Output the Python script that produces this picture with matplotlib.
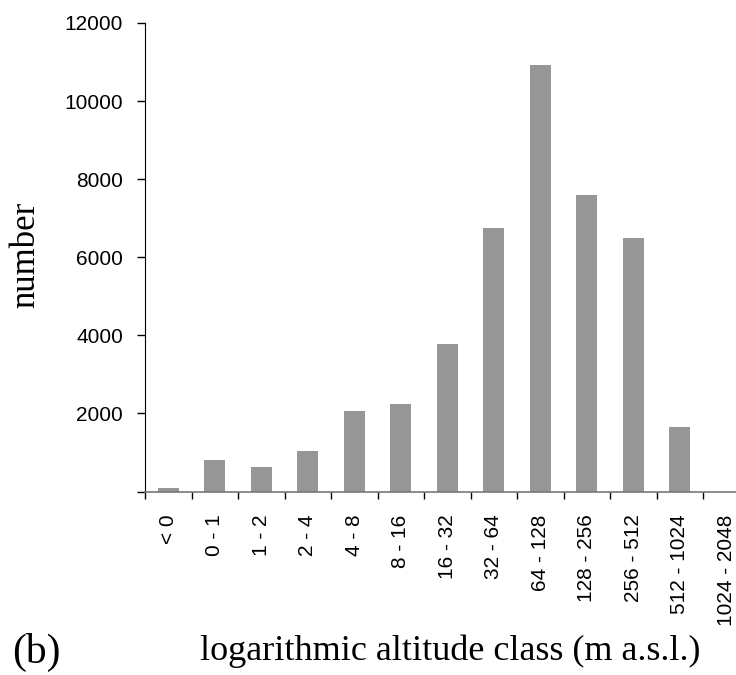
import numpy as np
import matplotlib
matplotlib.use("Agg")
import matplotlib.pyplot as plt

# altitude classes (m a.s.l.) and counts
classes = ['< 0', '0 - 1', '1 - 2', '2 - 4', '4 - 8', '8 - 16', '16 - 32',
           '32 - 64', '64 - 128', '128 - 256', '256 - 512', '512 - 1024',
           '1024 - 2048']
counts = [100, 800, 620, 1030, 2050, 2230, 3780, 6760, 10930, 7600, 6500, 1650, 0]
yticks = [0, 2000, 4000, 6000, 8000, 10000, 12000]
ytick_labels = ['', '2000', '4000', '6000', '8000', '10000', '12000']

fig = plt.figure(figsize=(7.36, 6.75), dpi=100)
ax = fig.add_axes([145 / 736, 1 - 491.5 / 675, 1 - 145 / 736, (491.5 - 23) / 675])

x = np.arange(len(classes))
ax.bar(x, counts, width=0.45, color='#969696', edgecolor='none', zorder=2)

ax.set_xlim(-0.5, -0.5 + (736 - 145) / 46.5)
ax.set_ylim(0, 12000)

ax.set_yticks(yticks)
ax.set_yticklabels(ytick_labels, fontsize=15, family='Liberation Sans')
ax.tick_params(axis='y', direction='out', length=5.8, width=1, pad=10)

# labels at class centres, tick marks on class boundaries
ax.set_xticks(x)
ax.set_xticklabels(classes, rotation=90, fontsize=15, family='Liberation Sans',
                   va='top', ha='center')
ax.tick_params(axis='x', which='major', length=0, pad=16.5)
ax.set_xticks(np.arange(len(classes)) - 0.5, minor=True)
ax.tick_params(axis='x', which='minor', direction='out', length=5, width=1)

for s in ['top', 'right']:
    ax.spines[s].set_visible(False)
ax.spines['left'].set_color('black')
ax.spines['bottom'].set_color('#777777')
ax.spines['bottom'].set_linewidth(1.2)

fig.text(26 / 736, 1 - 255 / 675, 'number', rotation=90, fontsize=25,
         family='Liberation Serif', ha='center', va='center')
fig.text(450 / 736, 1 - 660 / 675, 'logarithmic altitude class (m a.s.l.)',
         fontsize=26, family='Liberation Serif', ha='center', va='baseline')
fig.text(12 / 736, 1 - 652 / 675, '(b)', fontsize=30,
         family='Liberation Serif', ha='left', va='center')

fig.savefig('out.png', dpi=100)
